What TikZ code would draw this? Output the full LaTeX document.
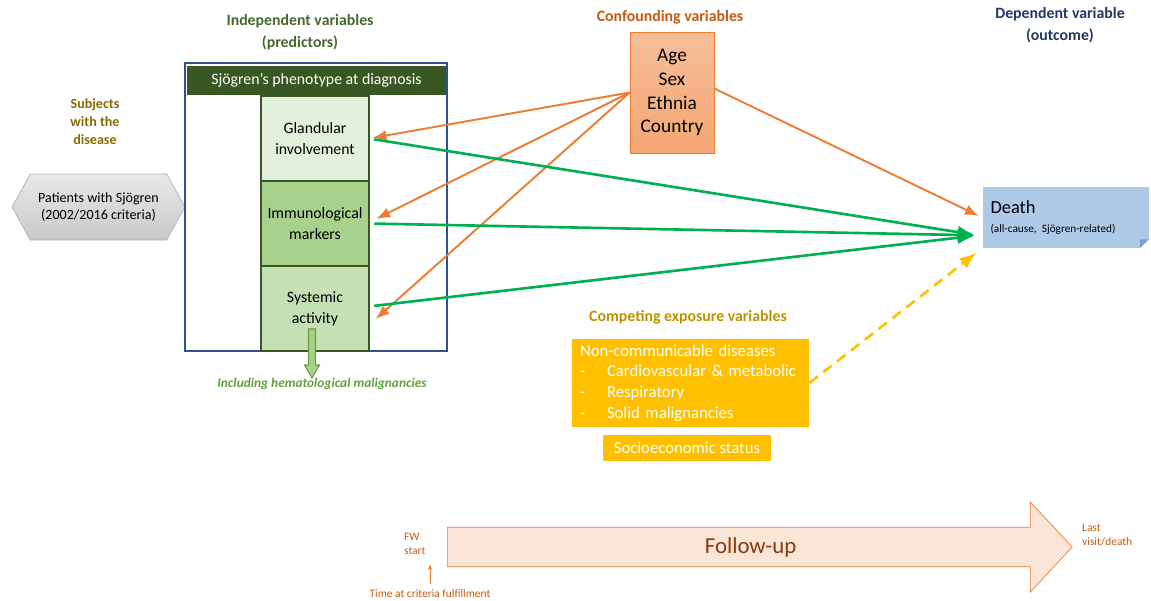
\documentclass[tikz,border=0pt]{standalone}
\usepackage{fontspec}
\setmainfont{Carlito}
\usepackage{tikz}
\usetikzlibrary{arrows.meta,calc,positioning,shapes.symbols,shapes.arrows}
\usepackage{xcolor}
\definecolor{titlegreen}{RGB}{70,105,45}
\definecolor{darkgreen}{RGB}{56,87,35}
\definecolor{frameblue}{RGB}{47,82,143}
\definecolor{glandfill}{RGB}{226,239,218}
\definecolor{immunofill}{RGB}{169,209,142}
\definecolor{systfill}{RGB}{197,224,180}
\definecolor{incgreen}{RGB}{100,160,60}
\definecolor{subjgold}{RGB}{140,105,0}
\definecolor{conftext}{RGB}{197,90,17}
\definecolor{orangeline}{RGB}{237,125,49}
\definecolor{navy}{RGB}{31,56,100}
\definecolor{deathblue}{RGB}{174,202,232}
\definecolor{deathfold}{RGB}{120,160,210}
\definecolor{amber}{RGB}{255,192,0}
\definecolor{compgold}{RGB}{191,144,0}
\definecolor{effgreen}{RGB}{0,176,80}
\definecolor{fufill}{RGB}{251,229,214}
\definecolor{futext}{RGB}{132,60,12}

\begin{document}
\begin{tikzpicture}[x=0.02cm,y=-0.02cm,>=Latex,
  every node/.style={font=\fontsize{9}{11.9}\selectfont},
  heading/.style={font=\fontsize{9}{12.5}\selectfont\bfseries,align=center},
  stage/.style={draw=darkgreen,line width=1.6pt,minimum width=2.16cm,minimum height=1.7cm,
    align=center,outer sep=0pt,inner sep=1pt},
  confarrow/.style={->,orangeline,line width=1.1pt,shorten >=2pt},
  effarrow/.style={->,effgreen,line width=1.5pt,shorten <=3pt,shorten >=2pt},
  note/.style={font=\fontsize{6.5}{8}\selectfont,text=conftext,align=left}]
  \useasboundingbox (0,0) rectangle (1151,600);

  \node[heading,text=titlegreen] (indtitle) at (300,32) {Independent variables\\(predictors)};
  \node[heading,text=conftext] (conftitle) at (670,17) {Confounding variables};
  \node[heading,text=navy] (deptitle) at (1060,25) {Dependent variable\\(outcome)};
  \node[heading,text=compgold] (comptitle) at (688,317) {Competing exposure variables};
  \node[heading,text=subjgold,font=\fontsize{8}{10.3}\selectfont\bfseries] (subjects) at (95,122) {Subjects\\with the\\disease};

  \node[signal,signal to=west and east,signal pointer angle=122,draw=gray!60,
    top color=gray!18,bottom color=gray!42,minimum width=3.46cm,minimum height=1.32cm,
    align=center,inner sep=1pt,font=\fontsize{8}{9.8}\selectfont] (patients) at (98.5,207)
    {Patients with Sjögren\\(2002/2016 criteria)};

  \node[draw=frameblue,line width=1.3pt,minimum width=5.24cm,minimum height=5.76cm] (frame) at (316,207) {};
  \node[fill=darkgreen,text=white,minimum width=5.18cm,minimum height=0.58cm] (pheno) at (316.5,80.5)
    {Sjögren’s phenotype at diagnosis};
  \node[stage,fill=glandfill] (gland) at (315,138.5) {Glandular\\involvement};
  \node[stage,fill=immunofill,below=0pt of gland] (immuno) {Immunological\\markers};
  \node[stage,fill=systfill,below=0pt of immuno] (syst) {Systemic\\activity};
  \coordinate (dtop) at (312,329);
  \coordinate (dtip) at (312,378);
  \draw[incgreen,fill=immunofill,line width=0.6pt] ($(dtop)+(-3.5,0)$) -- ($(dtop)+(3.5,0)$)
    -- ($(dtip)+(3.5,-13)$) -- ($(dtip)+(7.5,-13)$) -- (dtip) -- ($(dtip)+(-7.5,-13)$)
    -- ($(dtip)+(-3.5,-13)$) -- cycle;
  \node[text=incgreen,font=\fontsize{7.6}{8}\selectfont\bfseries\itshape] (incl) at (322,384)
    {Including hematological malignancies};

  \node[draw=orangeline,top color=orangeline!50,bottom color=orangeline!68,minimum width=1.68cm,
    minimum height=2.42cm,align=center,font=\fontsize{11}{13.6}\selectfont] (conf) at (672,92.5)
    {Age\\Sex\\Ethnia\\Country};

  \node[fill=deathblue,minimum width=3.22cm,minimum height=1.22cm,text width=3.0cm,align=left,
    inner xsep=0.16cm] (death) at (1065.5,217.5)
    {{\fontsize{10.5}{13}\selectfont Death}\\[-1pt]{\fontsize{6.4}{8}\selectfont (all-cause, Sjögren-related)}};
  \fill[white] (death.south east) -- ++(-9,0) -- ++(9,-9) -- cycle;
  \fill[deathfold] ($(death.south east)+(-9,0)$) -- ++(9,-9) -- ++(-9,0) -- cycle;

  \node[fill=amber,text=white,minimum width=4.74cm,minimum height=1.76cm,text width=4.42cm,
    inner xsep=0.16cm,align=left,font=\fontsize{9.5}{11.9}\selectfont] (ncd) at (690.5,383)
    {Non-communicable diseases\\
     \makebox[0.54cm][l]{-}Cardiovascular \& metabolic\\
     \makebox[0.54cm][l]{-}Respiratory\\
     \makebox[0.54cm][l]{-}Solid malignancies};
  \node[fill=amber,text=white,minimum width=3.36cm,minimum height=0.52cm,
    font=\fontsize{9.5}{11.9}\selectfont] (socio) at (687,448) {Socioeconomic status};

  \draw[confarrow] (conf.west) -- (gland.east);
  \draw[confarrow] (conf.west) -- ($(immuno.east)+(4,-3)$);
  \draw[confarrow] (conf.west) -- ($(syst.east)+(4,13)$);
  \draw[confarrow] ($(conf.east)+(0,-4)$) -- (death.west);
  \draw[effarrow] (gland.east) -- ($(death.south west)+(-4,-13)$);
  \draw[effarrow] (immuno.east) -- ($(death.south west)+(-4,-13)$);
  \draw[effarrow] ($(syst.east)+(0,-2)$) -- ($(death.south west)+(-4,-13)$);
  \draw[->,amber,line width=1.5pt,dash pattern=on 6pt off 4pt,shorten >=4pt] (ncd.east) -- (death.south west);

  \node[single arrow,draw=orangeline,fill=fufill,minimum height=12.5cm,minimum width=1.8cm,
    single arrow head extend=0.41cm,single arrow tip angle=94,anchor=tail,text=futext,
    font=\fontsize{13}{15}\selectfont] (followup) at (447,547) {Follow-up};
  \node[note,anchor=west] (fwstart) at (398,544) {FW\\start};
  \node[note,anchor=west] (lastvisit) at (1076,535) {Last\\visit/death};
  \node[note] (criteria) at (430,594) {Time at criteria fulfillment};
  \coordinate (fwtip) at (430,564);
  \draw[->,orangeline,line width=0.5pt,>={Latex[length=3pt]}] (criteria.north) -- (fwtip);
\end{tikzpicture}
\end{document}
